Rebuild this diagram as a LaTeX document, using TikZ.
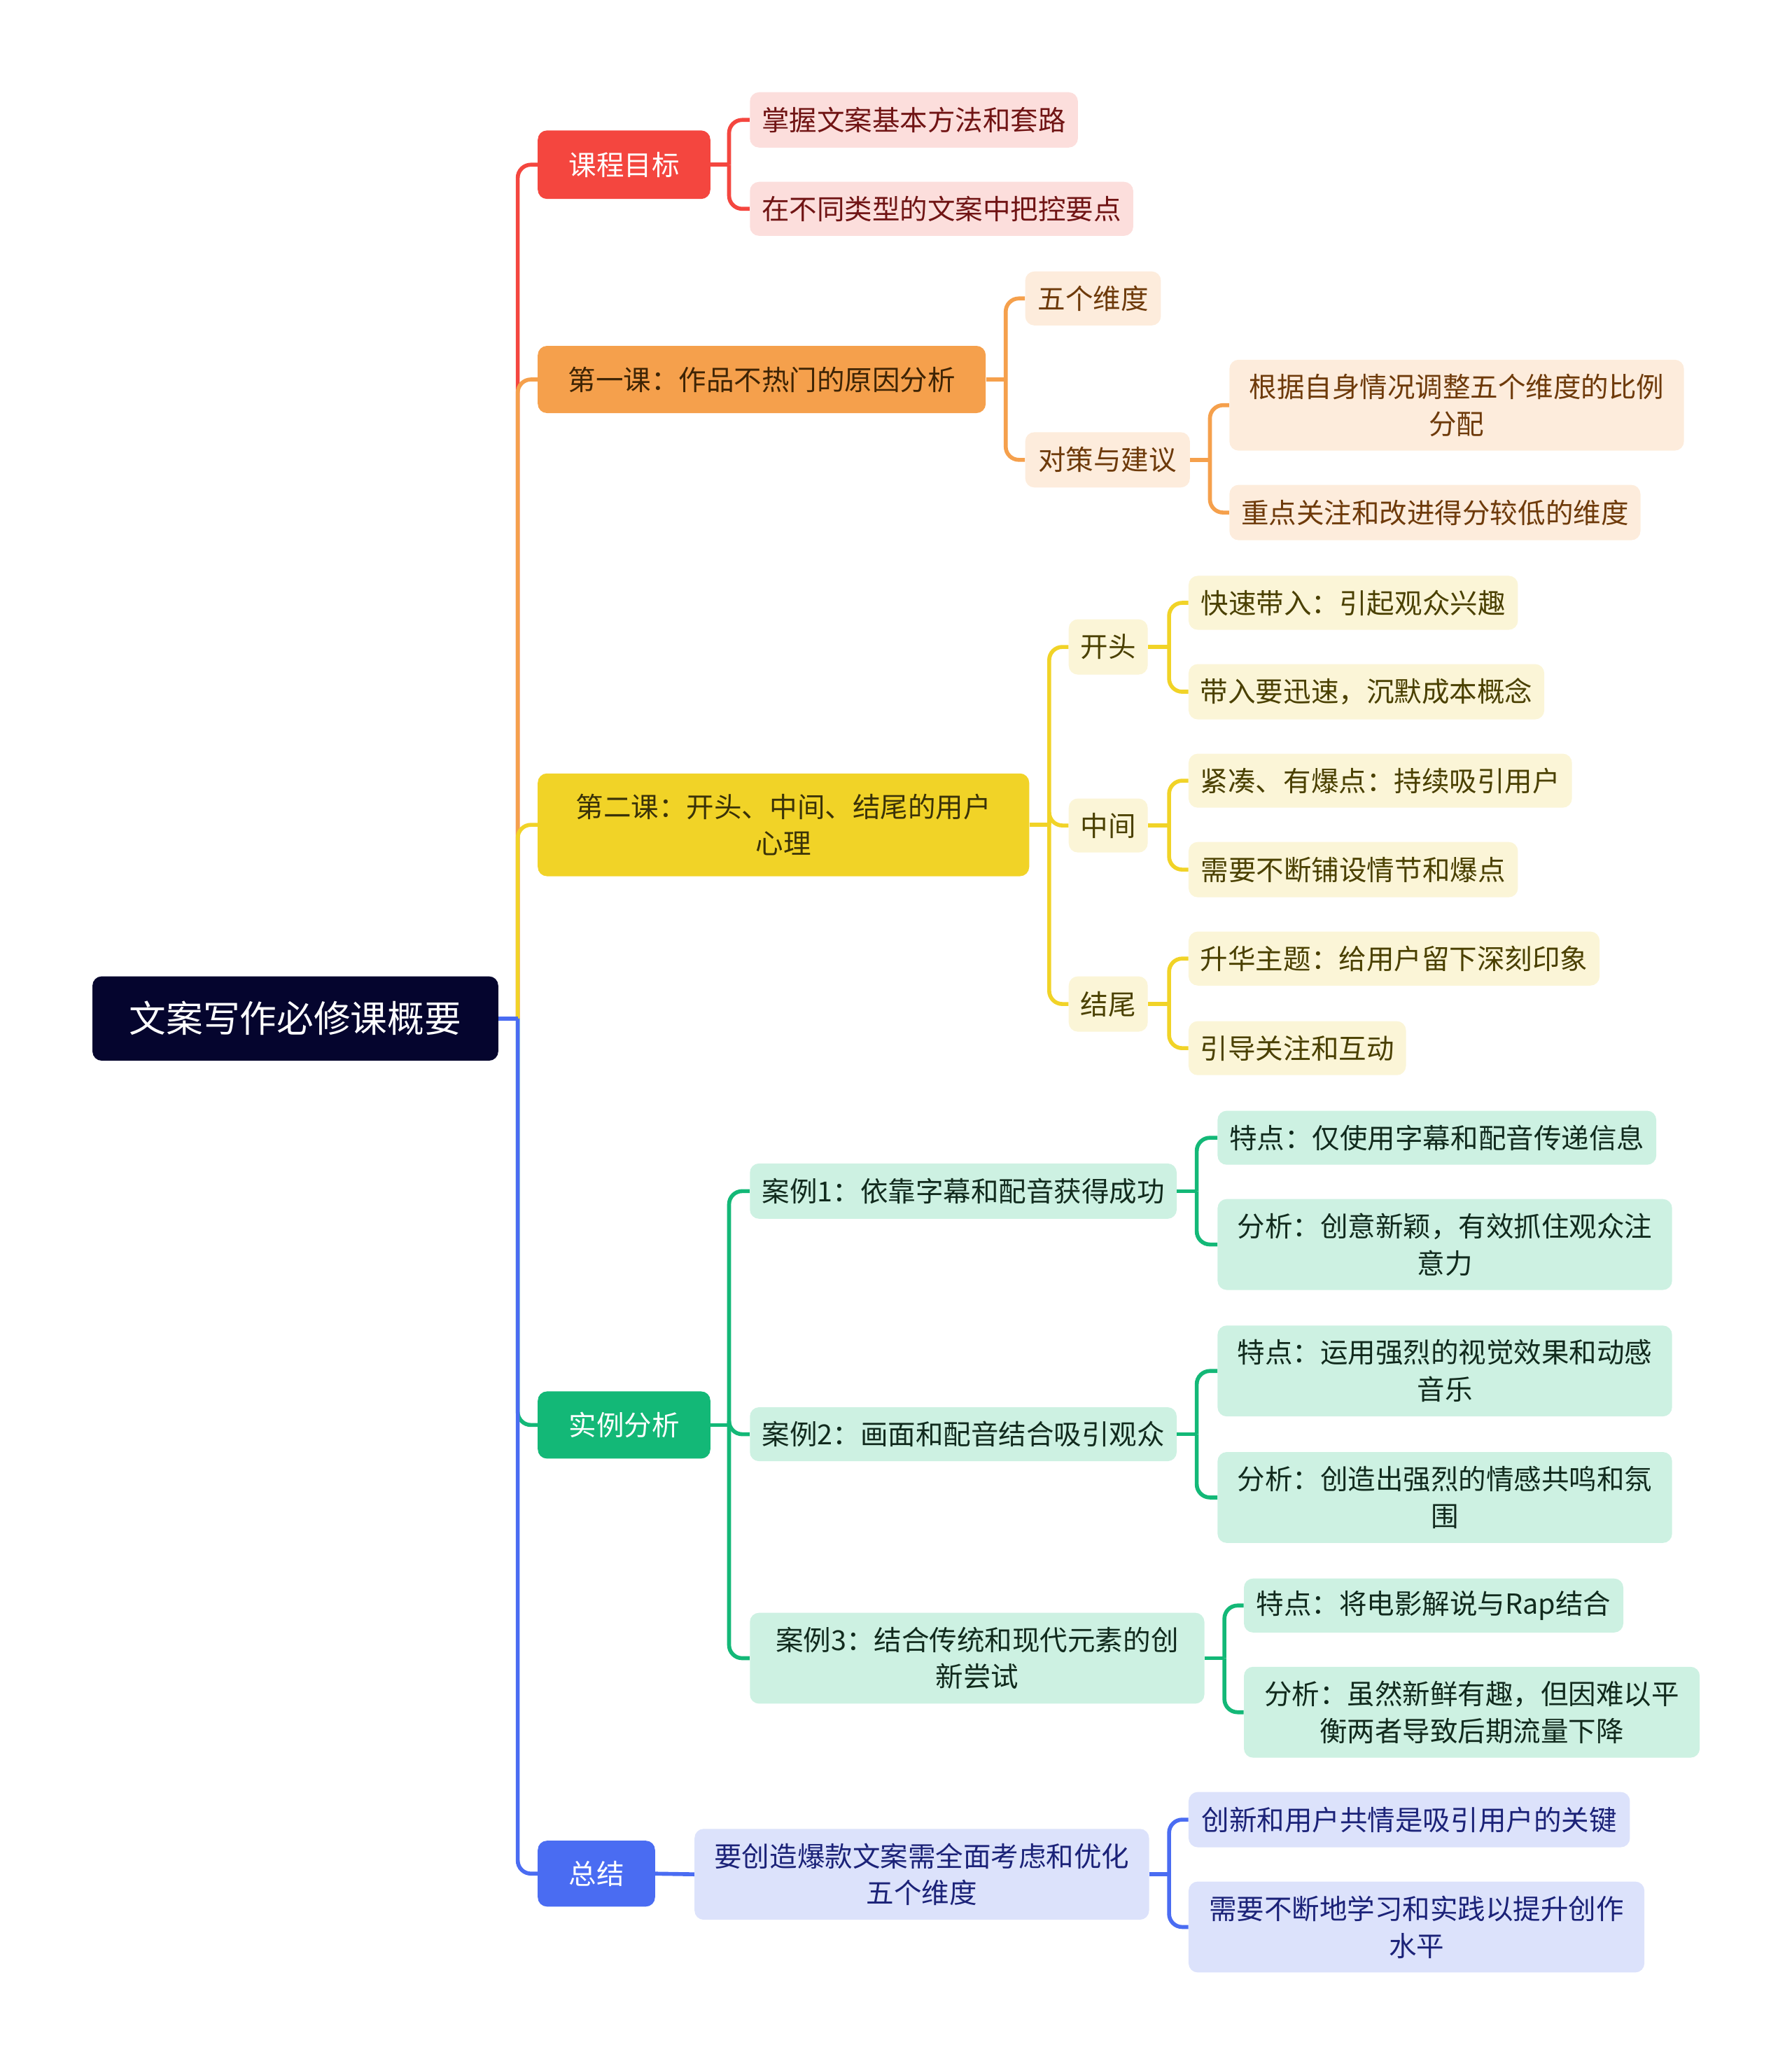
\documentclass[tikz,border=0pt]{standalone}
\usepackage{fontspec}
\setmainfont{Noto Sans CJK SC}
\definecolor{rootc}{HTML}{05052E}
\definecolor{cR}{HTML}{F4463F}
\definecolor{lR}{HTML}{FCDEDC}
\definecolor{tR}{HTML}{701414}
\definecolor{cO}{HTML}{F5A04C}
\definecolor{lO}{HTML}{FDECDC}
\definecolor{tO}{HTML}{6E3A0A}
\definecolor{tOd}{HTML}{3E2405}
\definecolor{cY}{HTML}{F1D327}
\definecolor{lY}{HTML}{FBF5D7}
\definecolor{tY}{HTML}{4A4000}
\definecolor{tYd}{HTML}{3A3208}
\definecolor{cG}{HTML}{13B877}
\definecolor{lG}{HTML}{CDF1E2}
\definecolor{tG}{HTML}{112A1D}
\definecolor{cB}{HTML}{4A6CF2}
\definecolor{lB}{HTML}{DCE2FB}
\definecolor{tB}{HTML}{1B2278}
\begin{document}
\begin{tikzpicture}[x=1pt,y=-1pt,
  box/.style={rectangle, rounded corners=7pt, inner sep=0pt, align=center, anchor=west,
    font=\fontsize{21}{28}\selectfont},
  conn/.style={line width=3pt, rounded corners=10pt},
  rootbox/.style={box, fill=rootc, text=white, font=\fontsize{28}{34}\selectfont},
  bR/.style={box, fill=cR, text=white}, sR/.style={box, fill=lR, text=tR},
  bO/.style={box, fill=cO, text=tOd}, sO/.style={box, fill=lO, text=tO},
  bY/.style={box, fill=cY, text=tYd}, sY/.style={box, fill=lY, text=tY},
  bG/.style={box, fill=cG, text=white}, sG/.style={box, fill=lG, text=tG},
  bB/.style={box, fill=cB, text=white}, sB/.style={box, fill=lB, text=tB}
]
\useasboundingbox (0,0) rectangle (1360,1568);

% root
\node[rootbox, minimum width=308, minimum height=64] (root) at (70,773) {文案写作必修课概要};

% level 1
\node[bR, minimum width=131, minimum height=52] (k1) at (408,125) {课程目标};
\node[bO, minimum width=340, minimum height=51] (k2) at (408,288) {第一课：作品不热门的原因分析};
\node[bY, minimum width=373, minimum height=78] (k3) at (408,626) {第二课：开头、中间、结尾的用户\\心理};
\node[bG, minimum width=131, minimum height=51] (k4) at (408,1081.5) {实例分析};
\node[bB, minimum width=89, minimum height=50] (k5) at (408,1422) {总结};

% red children
\node[sR, minimum width=249, minimum height=42] (r1) at (569,91) {掌握文案基本方法和套路};
\node[sR, minimum width=291, minimum height=41] (r2) at (569,158.5) {在不同类型的文案中把控要点};

% orange children
\node[sO, minimum width=103, minimum height=41] (o1) at (778,226.5) {五个维度};
\node[sO, minimum width=125, minimum height=42] (o2) at (778,349) {对策与建议};
\node[sO, minimum width=345, minimum height=69] (o21) at (933,307.5) {根据自身情况调整五个维度的比例\\分配};
\node[sO, minimum width=312, minimum height=42] (o22) at (933,389) {重点关注和改进得分较低的维度};

% yellow children
\node[sY, minimum width=60, minimum height=42] (y1) at (811,491) {开头};
\node[sY, minimum width=60, minimum height=41] (y2) at (811,626.5) {中间};
\node[sY, minimum width=60, minimum height=42] (y3) at (811,762) {结尾};
\node[sY, minimum width=250, minimum height=41] (y11) at (902,457.5) {快速带入：引起观众兴趣};
\node[sY, minimum width=270, minimum height=42] (y12) at (902,525) {带入要迅速，沉默成本概念};
\node[sY, minimum width=291, minimum height=41] (y21) at (902,592.5) {紧凑、有爆点：持续吸引用户};
\node[sY, minimum width=250, minimum height=42] (y22) at (902,660) {需要不断铺设情节和爆点};
\node[sY, minimum width=312, minimum height=41] (y31) at (902,727.5) {升华主题：给用户留下深刻印象};
\node[sY, minimum width=165, minimum height=41] (y32) at (902,795.5) {引导关注和互动};

% green children
\node[sG, minimum width=324, minimum height=42] (g1) at (569,904) {案例1：依靠字幕和配音获得成功};
\node[sG, minimum width=324, minimum height=41] (g2) at (569,1088.5) {案例2：画面和配音结合吸引观众};
\node[sG, minimum width=345, minimum height=69] (g3) at (569,1258.5) {案例3：结合传统和现代元素的创\\新尝试};
\node[sG, minimum width=333, minimum height=41] (g11) at (924,863.5) {特点：仅使用字幕和配音传递信息};
\node[sG, minimum width=345, minimum height=69] (g12) at (924,944.5) {分析：创意新颖，有效抓住观众注\\意力};
\node[sG, minimum width=345, minimum height=69] (g21) at (924,1040.5) {特点：运用强烈的视觉效果和动感\\音乐};
\node[sG, minimum width=345, minimum height=69] (g22) at (924,1136.5) {分析：创造出强烈的情感共鸣和氛\\围};
\node[sG, minimum width=288, minimum height=41] (g31) at (944,1218.5) {特点：将电影解说与Rap结合};
\node[sG, minimum width=346, minimum height=69] (g32) at (944,1299.5) {分析：虽然新鲜有趣，但因难以平\\衡两者导致后期流量下降};

% blue children
\node[sB, minimum width=345, minimum height=69] (b1) at (527,1422.5) {要创造爆款文案需全面考虑和优化\\五个维度};
\node[sB, minimum width=335, minimum height=42] (b11) at (902,1381) {创新和用户共情是吸引用户的关键};
\node[sB, minimum width=346, minimum height=69] (b12) at (902,1462.5) {需要不断地学习和实践以提升创作\\水平};

% junction coordinates
\coordinate (j0) at (393,773);
\path (k1.east) ++(14,0) coordinate (jr);
\path (k2.east) ++(15,0) coordinate (jo);
\path (o2.east) ++(15,0) coordinate (jo2);
\path (k3.east) ++(15,0) coordinate (jy);
\path (y1.east) ++(16,0) coordinate (jy1);
\path (y2.east) ++(16,0) coordinate (jy2);
\path (y3.east) ++(16,0) coordinate (jy3);
\path (k4.east) ++(14,0) coordinate (jg);
\path (g1.east) ++(15,0) coordinate (jg1);
\path (g2.east) ++(15,0) coordinate (jg2);
\path (g3.east) ++(15,0) coordinate (jg3);
\path (b1.east) ++(15,0) coordinate (jb1);

% main trunk
\draw[conn, cR] (j0) |- (k1.west);
\draw[conn, cO] (j0) |- (k2.west);
\draw[conn, cY] (j0) |- (k3.west);
\draw[conn, cG] (j0) |- (k4.west);
\draw[conn, cB] (j0) |- (k5.west);
\draw[conn, cB] (root.east) -- (j0);

% red
\draw[conn, cR] (k1.east) -- (jr);
\draw[conn, cR] (jr) |- (r1.west);
\draw[conn, cR] (jr) |- (r2.west);

% orange
\draw[conn, cO] (k2.east) -- (jo);
\draw[conn, cO] (jo) |- (o1.west);
\draw[conn, cO] (jo) |- (o2.west);
\draw[conn, cO] (o2.east) -- (jo2);
\draw[conn, cO] (jo2) |- (o21.west);
\draw[conn, cO] (jo2) |- (o22.west);

% yellow
\draw[conn, cY] (k3.east) -- (jy);
\draw[conn, cY] (jy) |- (y1.west);
\draw[conn, cY] (jy) |- (y2.west);
\draw[conn, cY] (jy) |- (y3.west);
\draw[conn, cY] (y1.east) -- (jy1);
\draw[conn, cY] (jy1) |- (y11.west);
\draw[conn, cY] (jy1) |- (y12.west);
\draw[conn, cY] (y2.east) -- (jy2);
\draw[conn, cY] (jy2) |- (y21.west);
\draw[conn, cY] (jy2) |- (y22.west);
\draw[conn, cY] (y3.east) -- (jy3);
\draw[conn, cY] (jy3) |- (y31.west);
\draw[conn, cY] (jy3) |- (y32.west);

% green
\draw[conn, cG] (k4.east) -- (jg);
\draw[conn, cG] (jg) |- (g1.west);
\draw[conn, cG] (jg) |- (g2.west);
\draw[conn, cG] (jg) |- (g3.west);
\draw[conn, cG] (g1.east) -- (jg1);
\draw[conn, cG] (jg1) |- (g11.west);
\draw[conn, cG] (jg1) |- (g12.west);
\draw[conn, cG] (g2.east) -- (jg2);
\draw[conn, cG] (jg2) |- (g21.west);
\draw[conn, cG] (jg2) |- (g22.west);
\draw[conn, cG] (g3.east) -- (jg3);
\draw[conn, cG] (jg3) |- (g31.west);
\draw[conn, cG] (jg3) |- (g32.west);

% blue
\draw[conn, cB] (k5.east) -- (b1.west);
\draw[conn, cB] (b1.east) -- (jb1);
\draw[conn, cB] (jb1) |- (b11.west);
\draw[conn, cB] (jb1) |- (b12.west);
\end{tikzpicture}
\end{document}
